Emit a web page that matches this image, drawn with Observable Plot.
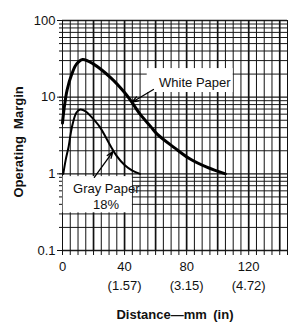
<!DOCTYPE html>
<html><head><meta charset="utf-8">
<script src="https://cdn.jsdelivr.net/npm/d3@7"></script>
<script src="https://cdn.jsdelivr.net/npm/@observablehq/plot@0.6"></script>
<style>body{margin:0;background:#fff}</style>
</head><body><div id="chart"></div>
<script>
// Data
const whiteX = [0, 1, 3, 6, 9, 13, 20, 31, 40, 44, 50, 57, 61, 72, 82, 93, 105];
const whiteY = [4.6, 7, 12.5, 20, 27, 31, 27, 18, 11.5, 9, 6, 4.1, 3.3, 2.2, 1.57, 1.22, 1.0];
const grayX = [0.5, 2, 4, 6, 9, 11.5, 15, 18, 24, 31, 35, 40, 45, 50];
const grayY = [1.0, 1.5, 2.3, 4, 6.3, 6.9, 6.5, 5.7, 4.1, 2.3, 1.7, 1.3, 1.1, 1.0];

const xTickVals = [0, 40, 80, 120];
const xTickLabels = ["0", "40\n(1.57)", "80\n(3.15)", "120\n(4.72)"];
const yTickVals = [0.1, 1, 10, 100];
const yTickLabels = ["0.1", "1", "10", "100"];

const gridX = [0,5,10,15,20,25,30,35,40,45,50,55,60,65,70,75,80,85,90,95,100,105,110,115,120,125,130,135,140,145];
const gridY = [0.1,0.2,0.3,0.4,0.5,0.6,0.7,0.8,0.9,1,2,3,4,5,6,7,8,9,10,20,30,40,50,60,70,80,90,100];

const annotations = [
  {text: "White Paper", x: 85.3, y: 15.6},
  {text: "Gray Paper", x: 28.2, y: 0.647},
  {text: "18%", x: 28, y: 0.40}
];
const boxes = [
  {x1: 54.6, x2: 110, y1: 11.5, y2: 23.6},
  {x1: 0.4, x2: 45, y1: 0.31, y2: 0.92}
];
const arrows = [
  {x1: 58.6, y1: 12.6, x2: 44.8, y2: 8.6},
  {x1: 20.5, y1: 0.9, x2: 32.5, y2: 1.95}
];

const white = whiteX.map((x, i) => ({x, y: whiteY[i]}));
const gray = grayX.map((x, i) => ({x, y: grayY[i]}));

const font = "'Liberation Sans', Arial, Helvetica, sans-serif";

const chart = Plot.plot({
  width: 288, height: 329,
  marginTop: 20, marginBottom: 79, marginLeft: 62, marginRight: 1,
  style: {fontFamily: font, fontSize: "13px", background: "#fff", color: "#111"},
  x: {domain: [0, 145]},
  y: {type: "log", domain: [0.1, 100]},
  marks: [
    Plot.ruleY(gridY, {stroke: "#1a1a1a", strokeWidth: d => (d === 1 || d === 10 || d === 0.1 || d === 100) ? 1.3 : 1}),
    Plot.ruleX(gridX, {stroke: "#111", strokeWidth: d => (d % 20 === 0 && d > 0) ? 1.7 : 1}),
    Plot.rect(boxes, {x1: "x1", x2: "x2", y1: "y1", y2: "y2", fill: "#fff"}),
    Plot.axisX({ticks: gridX, tickSize: 5, tickFormat: () => "", label: null}),
    Plot.axisX({ticks: xTickVals, tickSize: 0, tickPadding: 8, tickFormat: d => xTickLabels[xTickVals.indexOf(d)], fontSize: 13, lineHeight: 1.4, label: null}),
    Plot.axisY({ticks: gridY, tickSize: 3, tickFormat: () => "", label: null}),
    Plot.axisY({ticks: yTickVals, tickSize: 5, tickPadding: 2, tickFormat: d => yTickLabels[yTickVals.indexOf(d)], fontSize: 13, label: null}),
    Plot.line(white, {x: "x", y: "y", stroke: "#000", strokeWidth: 3, curve: "catmull-rom"}),
    Plot.line(gray, {x: "x", y: "y", stroke: "#000", strokeWidth: 2, curve: "catmull-rom"}),
    Plot.arrow(arrows, {x1: "x1", y1: "y1", x2: "x2", y2: "y2", stroke: "#000", strokeWidth: 1.3, headLength: 8, headAngle: 40}),
    Plot.text(annotations, {x: "x", y: "y", text: "text", fontSize: 13, fill: "#111"}),
    Plot.text(["Operating\u00a0\u00a0Margin"], {frameAnchor: "left", textAnchor: "start", rotate: -90, dx: -44, dy: 62, fontWeight: "bold", fontSize: 13}),
    Plot.text(["Distance\u2014mm\u2002(in)"], {frameAnchor: "bottom", dy: 68, fontWeight: "bold", fontSize: 13})
  ]
});
document.getElementById("chart").append(chart);
</script>
</body></html>
